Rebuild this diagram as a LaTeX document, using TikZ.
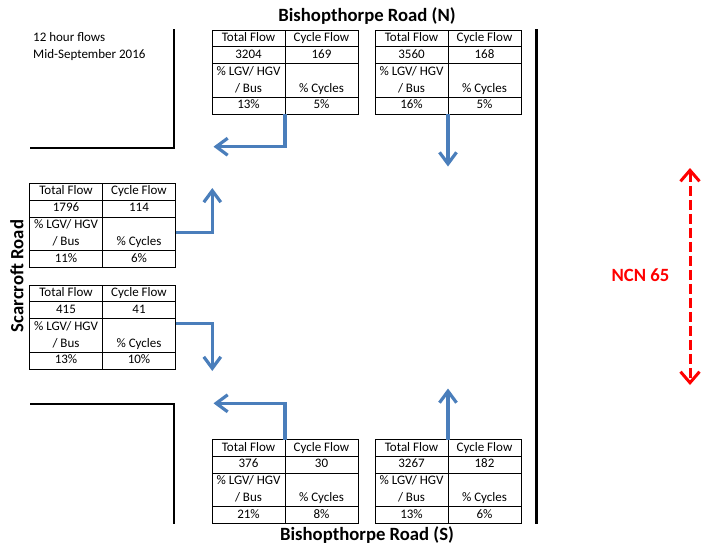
\documentclass[tikz,border=0pt]{standalone}
\usepackage{fontspec}
\setmainfont{Carlito}
\usetikzlibrary{arrows.meta}

\definecolor{flowblue}{RGB}{74,126,187}
\definecolor{ncnred}{RGB}{255,0,0}

\def\cw{73}
\def\rh{16.8}

\tikzset{
  tabframe/.style={draw, line width=0.8pt, minimum width=146pt, minimum height=84pt, inner sep=0pt, outer sep=0pt, anchor=north west},
  tabline/.style={line width=0.8pt},
  cell/.style={inner sep=0pt, text height=9pt, text depth=2.5pt, font=\fontsize{13}{15}\selectfont},
  road/.style={line width=2.8pt},
  flowarrow/.style={draw=flowblue, line width=3.2pt, -{Straight Barb[length=11.5pt,width=17pt]}},
  ncnarrow/.style={draw=ncnred, line width=3pt, dash pattern=on 10pt off 4pt, {Straight Barb[length=11pt,width=19pt]}-{Straight Barb[length=11pt,width=19pt]}},
  roadname/.style={inner sep=0pt, font=\fontsize{18.7}{22}\selectfont\bfseries},
  note/.style={inner sep=0pt, anchor=base west, font=\fontsize{13}{15}\selectfont}
}

\newcommand{\flowtab}[6]{%
  \node[tabframe] (#1) at (#2) {};
  \draw[tabline] ([shift={(\cw,0)}]#1.north west) -- ([shift={(\cw,0)}]#1.south west);
  \foreach \r in {1,2,4}
    \draw[tabline] ([shift={(0,\r*\rh)}]#1.north west) -- ([shift={(0,\r*\rh)}]#1.north east);
  \node[cell] (#1-tf) at ([shift={(0.5*\cw,0.5*\rh)}]#1.north west) {Total Flow};
  \node[cell] (#1-cf) at ([shift={(1.5*\cw,0.5*\rh)}]#1.north west) {Cycle Flow};
  \node[cell] (#1-tv) at ([shift={(0.5*\cw,1.5*\rh)}]#1.north west) {#3};
  \node[cell] (#1-cv) at ([shift={(1.5*\cw,1.5*\rh)}]#1.north west) {#4};
  \node[cell] (#1-lh) at ([shift={(0.5*\cw,2.5*\rh)}]#1.north west) {\% LGV/ HGV};
  \node[cell] (#1-lb) at ([shift={(0.5*\cw,3.5*\rh)}]#1.north west) {/ Bus};
  \node[cell] (#1-ch) at ([shift={(1.5*\cw,3.5*\rh)}]#1.north west) {\% Cycles};
  \node[cell] (#1-lv) at ([shift={(0.5*\cw,4.5*\rh)}]#1.north west) {#5};
  \node[cell] (#1-cp) at ([shift={(1.5*\cw,4.5*\rh)}]#1.north west) {#6};
}

\begin{document}
\begin{tikzpicture}[x=1pt,y=-1pt]
\useasboundingbox (0,0) rectangle (702,547);

\draw [road](30,148) -| (174,29);
\draw [road](30,404) -| (174,523.5);
\draw [road](536.7,29) -- (536.7,523.5);

\node [note] (hours) at (33,41.7) {12 hour flows};
\node [note] (period) at (33,58.4) {Mid-September 2016};

\node [roadname] (bishN) at (367,16) {Bishopthorpe Road (N)};
\node [roadname] (bishS) at (367,535) {Bishopthorpe Road (S)};
\node [roadname, rotate=90] (scar) at (17,276) {Scarcroft Road};

\flowtab{tN1}{212,30}{3204}{169}{13\%}{5\%}
\flowtab{tN2}{375,30}{3560}{168}{16\%}{5\%}
\flowtab{tW1}{29.5,183.3}{1796}{114}{11\%}{6\%}
\flowtab{tW2}{29.5,285}{415}{41}{13\%}{10\%}
\flowtab{tS1}{212,439.5}{376}{30}{21\%}{8\%}
\flowtab{tS2}{375,439.5}{3267}{182}{13\%}{6\%}

\coordinate (aN1) at (213.5,146.7);
\coordinate (aN2) at ([yshift=-52.5pt]tN2.south);
\coordinate (aW1) at (212.3,188);
\coordinate (aW2) at (212.3,371);
\coordinate (aS1) at (213.5,403.3);
\coordinate (aS2) at ([yshift=51pt]tS2.north);

\draw [flowarrow](tN1.south) |- (aN1);
\draw [flowarrow](tN2.south) -- (aN2);
\draw [flowarrow]([yshift=-7.5pt]tW1.east) -| (aW1);
\draw [flowarrow]([yshift=3.7pt]tW2.east) -| (aW2);
\draw [flowarrow](tS1.north) |- (aS1);
\draw [flowarrow](tS2.north) -- (aS2);

\coordinate (ncnTop) at (690,168);
\coordinate (ncnBot) at (690,385);
\draw [ncnarrow](ncnTop) -- (ncnBot);
\node [roadname, text=ncnred] (ncn) at (640.5,275) {NCN 65};

\end{tikzpicture}
\end{document}
